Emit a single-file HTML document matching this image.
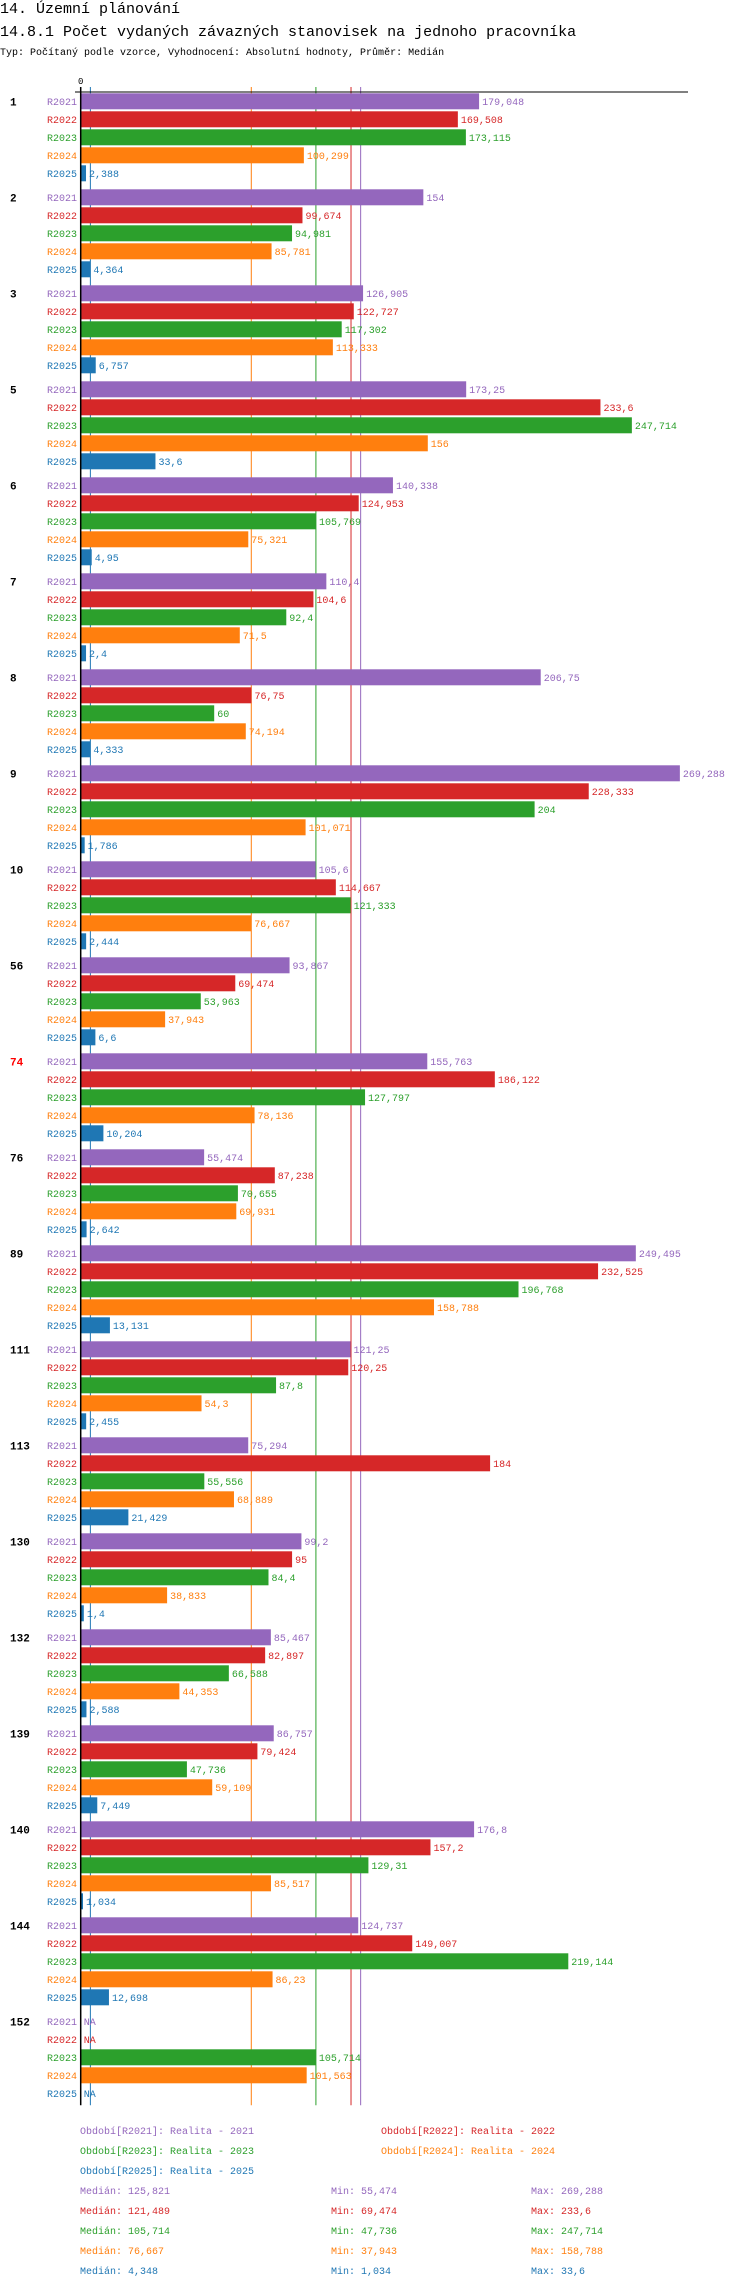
<!DOCTYPE html>
<html><head><meta charset="utf-8"><style>
html,body{margin:0;padding:0;background:#fff;}
svg{display:block;font-family:"Liberation Mono",monospace;}
</style></head><body>
<svg id="chart" width="750" height="2288" viewBox="0 0 750 2288" xmlns="http://www.w3.org/2000/svg">
<text x="0" y="13" font-size="15">14. Územní plánování</text>
<text x="0" y="36" font-size="15">14.8.1 Počet vydaných závazných stanovisek na jednoho pracovníka</text>
<text x="0" y="55" font-size="10">Typ: Počítaný podle vzorce, Vyhodnocení: Absolutní hodnoty, Průměr: Medián</text>
<g id="medians"></g>
<g id="bars"></g>
<g id="axes"></g>
<g id="legend"></g>
</svg>
<script>
const categories = ["1","2","3","5","6","7","8","9","10","56","74","76","89","111","113","130","132","139","140","144","152"];
const seriesNames = ["R2021","R2022","R2023","R2024","R2025"];
const seriesColors = ["#9467bd","#d62728","#2ca02c","#ff7f0e","#1f77b4"];
const r2021 = [179.048,154,126.905,173.25,140.338,110.4,206.75,269.288,105.6,93.867,155.763,55.474,249.495,121.25,75.294,99.2,85.467,86.757,176.8,124.737,null];
const r2022 = [169.508,99.674,122.727,233.6,124.953,104.6,76.75,228.333,114.667,69.474,186.122,87.238,232.525,120.25,184,95,82.897,79.424,157.2,149.007,null];
const r2023 = [173.115,94.981,117.302,247.714,105.769,92.4,60,204,121.333,53.963,127.797,70.655,196.768,87.8,55.556,84.4,66.588,47.736,129.31,219.144,105.714];
const r2024 = [100.299,85.781,113.333,156,75.321,71.5,74.194,101.071,76.667,37.943,78.136,69.931,158.788,54.3,68.889,38.833,44.353,59.109,85.517,86.23,101.563];
const r2025 = [2.388,4.364,6.757,33.6,4.95,2.4,4.333,1.786,2.444,6.6,10.204,2.642,13.131,2.455,21.429,1.4,2.588,7.449,1.034,12.698,null];
const medians = [125.821,121.489,105.714,76.667,4.348];
const mins = [55.474,69.474,47.736,37.943,1.034];
const maxs = [269.288,233.6,247.714,158.788,33.6];
const highlighted = ["74"];

const series = [r2021,r2022,r2023,r2024,r2025];
const NS = "http://www.w3.org/2000/svg";
const X0 = 80.7, K = 2.225, TOP = 93.3, GROUP = 96, ROW = 18, BH = 16;
function xs(v){ return X0 + v*K; }
function fmt(v){ return v===null ? "NA" : String(v).replace(".", ","); }
function mk(tag, attrs, parent, txt){
  const e = document.createElementNS(NS, tag);
  for (const k in attrs) e.setAttribute(k, attrs[k]);
  if (txt !== undefined) e.textContent = txt;
  parent.appendChild(e);
  return e;
}
const gMed = document.getElementById("medians");
const gBars = document.getElementById("bars");
const gAx = document.getElementById("axes");
const gLeg = document.getElementById("legend");
const bottom = TOP + categories.length*GROUP - 4;

medians.forEach((m, s) => {
  const l = mk("line", {x1: xs(m), x2: xs(m), y1: 87, y2: bottom, stroke: seriesColors[s], "stroke-width": 1}, gMed);
  
  
});

categories.forEach((c, i) => {
  const gy = TOP + i*GROUP;
  const gl = mk("text", {x: 10, y: gy + 12, "font-size": 11, "font-weight": "bold", fill: highlighted.includes(c) ? "#ff0000" : "#000"}, gBars, c);
  
  
  series.forEach((arr, s) => {
    const y = gy + s*ROW;
    const v = arr[i];
    const rl = mk("text", {x: 77, y: y + 11.5, "font-size": 10, "text-anchor": "end", fill: seriesColors[s]}, gBars, seriesNames[s]);
    
    
    let end = X0;
    if (v !== null) {
      const r = mk("rect", {x: X0, y: y, width: v*K, height: BH, fill: seriesColors[s]}, gBars);
      
      
      end = xs(v);
    }
    const vl = mk("text", {x: end + 3, y: y + 11.5, "font-size": 10, fill: seriesColors[s]}, gBars, fmt(v));
    
    
  });
});

const ax = mk("line", {x1: 75, x2: 688, y1: 92, y2: 92, stroke: "#000", "stroke-width": 1}, gAx);


const ay = mk("line", {x1: X0, x2: X0, y1: 87, y2: bottom, stroke: "#000", "stroke-width": 1.5}, gAx);


const zt = mk("text", {x: X0, y: 84, "font-size": 9, "text-anchor": "middle"}, gAx, "0");



const legX = [80, 381, 80, 381, 80];
const legY = [2133, 2133, 2153, 2153, 2173];
seriesNames.forEach((n, s) => {
  const t = mk("text", {x: legX[s], y: legY[s] + 1, "font-size": 10, fill: seriesColors[s]}, gLeg, "Období[" + n + "]: Realita - " + n.slice(1));
  
  
  const y = 2194 + s*20;
  const a = mk("text", {x: 80, y: y, "font-size": 10, fill: seriesColors[s]}, gLeg, "Medián: " + fmt(medians[s]));
  
  
  const b = mk("text", {x: 331, y: y, "font-size": 10, fill: seriesColors[s]}, gLeg, "Min: " + fmt(mins[s]));
  
  
  const d = mk("text", {x: 531, y: y, "font-size": 10, fill: seriesColors[s]}, gLeg, "Max: " + fmt(maxs[s]));
  
  
});
</script>
</body></html>
